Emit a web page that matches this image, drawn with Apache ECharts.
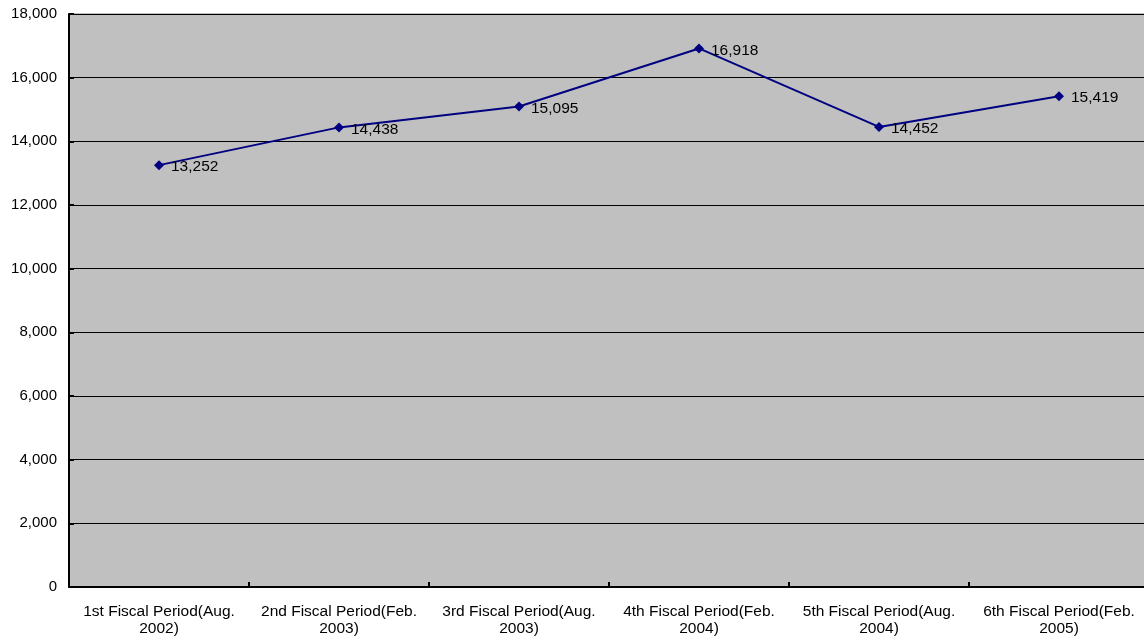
<!DOCTYPE html>
<html>
<head>
<meta charset="utf-8">
<script src="https://cdn.jsdelivr.net/npm/echarts@6/dist/echarts.min.js"></script>
<style>
html,body{margin:0;padding:0;background:#fff;}
#chart{width:1144px;height:643px;}
</style>
</head>
<body>
<div id="chart"></div>
<script>
// Fiscal periods and their values
const categories = [
  '1st Fiscal Period(Aug.\n2002)',
  '2nd Fiscal Period(Feb.\n2003)',
  '3rd Fiscal Period(Aug.\n2003)',
  '4th Fiscal Period(Feb.\n2004)',
  '5th Fiscal Period(Aug.\n2004)',
  '6th Fiscal Period(Feb.\n2005)'
];
const values = [13252, 14438, 15095, 16918, 14452, 15419];
const yTicks = { min: 0, max: 18000, interval: 2000 };

const FONT = 'Liberation Sans, Arial, sans-serif';

const chart = echarts.init(document.getElementById('chart'));
chart.setOption({
  animation: false,
  backgroundColor: '#ffffff',
  grid: {
    left: 69, right: -5, top: 14, bottom: 56,
    outerBoundsMode: 'none',
    show: true, backgroundColor: '#c0c0c0', borderColor: '#808080', borderWidth: 1
  },
  xAxis: {
    type: 'category',
    data: categories,
    boundaryGap: true,
    axisLine: { lineStyle: { color: '#000', width: 2 } },
    axisTick: { show: true, inside: true, length: 5, lineStyle: { color: '#000', width: 2 } },
    axisLabel: {
      color: '#000', fontFamily: FONT, fontSize: 15.5,
      lineHeight: 17, margin: 16, interval: 0, align: 'center'
    },
    splitLine: { show: false }
  },
  yAxis: {
    type: 'value',
    min: yTicks.min, max: yTicks.max, interval: yTicks.interval,
    axisLine: { show: true, lineStyle: { color: '#000', width: 2 } },
    axisTick: { show: true, inside: true, length: 5, lineStyle: { color: '#000', width: 2 } },
    axisLabel: {
      color: '#000', fontFamily: FONT, fontSize: 15,
      margin: 12,
      formatter: v => v.toLocaleString('en-US')
    },
    splitLine: { show: true, lineStyle: { color: '#000', width: 1 } }
  },
  series: [{
    type: 'line',
    data: values,
    symbol: 'diamond',
    symbolSize: 10,
    itemStyle: { color: '#000080' },
    lineStyle: { color: '#000080', width: 2 },
    label: {
      show: true, position: 'right', distance: 7, offset: [0, 2],
      color: '#000', fontFamily: FONT, fontSize: 15.5,
      formatter: p => p.value.toLocaleString('en-US')
    }
  }]
});
</script>
</body>
</html>
